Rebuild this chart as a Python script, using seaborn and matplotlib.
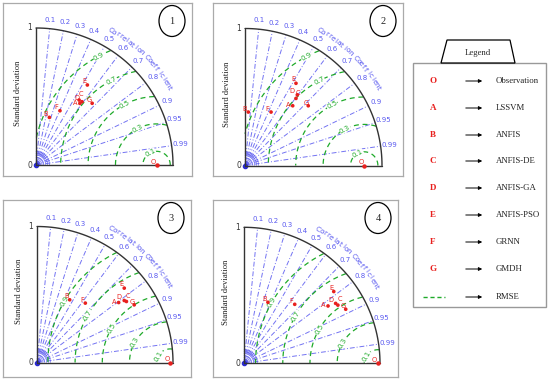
import numpy as np
import pandas as pd
import matplotlib
matplotlib.use("Agg")
import matplotlib.pyplot as plt
import seaborn as sns
from matplotlib.patches import Ellipse, Polygon, Rectangle

# ---- data ----
models = ["A", "B", "C", "D", "E", "F", "G"]
model_names = ["LSSVM", "ANFIS", "ANFIS-DE", "ANFIS-GA", "ANFIS-PSO", "GRNN", "GMDH"]

std_p1 = [0.552, 0.361, 0.569, 0.571, 0.694, 0.433, 0.609]
cor_p1 = [0.580, 0.270, 0.553, 0.588, 0.540, 0.404, 0.673]
std_p2 = [0.558, 0.391, 0.615, 0.642, 0.706, 0.434, 0.635]
cor_p2 = [0.624, 0.061, 0.605, 0.595, 0.527, 0.438, 0.727]
std_p3 = [0.745, 0.520, 0.796, 0.787, 0.843, 0.563, 0.831]
cor_p3 = [0.806, 0.462, 0.826, 0.815, 0.761, 0.631, 0.860]
std_p4 = [0.748, 0.482, 0.812, 0.805, 0.845, 0.572, 0.847]
cor_p4 = [0.826, 0.365, 0.850, 0.837, 0.781, 0.652, 0.883]
obs_std = [0.88, 0.87, 0.98, 0.985]

corr_ticks = [0.1, 0.2, 0.3, 0.4, 0.5, 0.6, 0.7, 0.8, 0.9, 0.95, 0.99]
rmse_levels = [0.1, 0.3, 0.5, 0.7, 0.9]
panel_labels = ["1", "2", "3", "4"]

W, H = 550, 379
BLUE = "#5a5af0"
GREEN = "#1faa2a"
RED = "#e8201e"

# label nudges so the letters sit next to their dot (data units)
label_dx = {"A": -0.035, "B": -0.025, "C": 0.012, "D": -0.038, "E": -0.02, "F": -0.025, "G": -0.018}
label_dy = {"A": 0.005, "B": 0.025, "C": 0.042, "D": 0.026, "E": 0.028, "F": 0.025, "G": 0.022}

sns.set_theme(style="white")
plt.rcParams["font.family"] = ["DejaVu Sans"]

fig = plt.figure(figsize=(W / 100, H / 100), dpi=100)


def taylor_panel(box, origin, R, stds, cors, sref, label, rmse_ang):
    x0, y0, x1, y1 = box
    ox, oy = origin
    ax = fig.add_axes([x0 / W, 1 - y1 / H, (x1 - x0) / W, (y1 - y0) / H])
    ax.set_xlim((x0 - ox) / R, (x1 - ox) / R)
    ax.set_ylim((oy - y1) / R, (oy - y0) / R)
    ax.set_xticks([])
    ax.set_yticks([])
    for s in ax.spines.values():
        s.set_color("#aaaaaa")
        s.set_linewidth(0.9)

    # correlation rays
    for c in corr_ticks:
        t = np.arccos(c)
        ax.plot([0, np.cos(t)], [0, np.sin(t)], color=BLUE, lw=0.7,
                ls=(0, (5, 2, 1, 2)), alpha=0.85)
        ax.text(1.065 * np.cos(t), 1.065 * np.sin(t), f"{c:g}", color=BLUE,
                fontsize=5, ha="center", va="center")

    # tiny arcs near the origin
    th = np.linspace(0, np.pi / 2, 60)
    for r in np.arange(0.015, 0.1, 0.014):
        ax.plot(r * np.cos(th), r * np.sin(th), color=BLUE, lw=0.5, alpha=0.8)
    ax.plot([0], [0], "o", color="#2a2ad0", ms=3)

    # RMSE circles around the reference
    phi = np.linspace(0, np.pi, 400)
    for rm in rmse_levels:
        xs = sref + rm * np.cos(phi)
        ys = rm * np.sin(phi)
        bad = (xs < 0) | (xs ** 2 + ys ** 2 > 1.0)
        xs = np.where(bad, np.nan, xs)
        ys = np.where(bad, np.nan, ys)
        ax.plot(xs, ys, color=GREEN, lw=0.9, ls=(0, (4, 3)))
        a = np.radians(rmse_ang)
        lx, ly = sref + rm * np.cos(a), rm * np.sin(a)
        ax.text(lx, ly, f"{rm:g}", color=GREEN, fontsize=5, ha="center",
                va="center", rotation=rmse_ang - 90,
                bbox=dict(facecolor="white", edgecolor="none", pad=0.2))

    # outer arc and axes
    ax.plot(np.cos(th), np.sin(th), color="#333333", lw=1.0)
    ax.plot([0, 0], [0, 1], color="#333333", lw=1.0)
    ax.plot([0, 1], [0, 0], color="#333333", lw=1.0)
    ax.text(-0.03, 1.0, "1", fontsize=5.5, ha="right", va="center", color="#333333")
    ax.text(-0.03, 0.0, "0", fontsize=5.5, ha="right", va="center", color="#333333")
    ax.text(-0.13, 0.52, "Standard deviation", rotation=90, fontsize=6.2,
            family="Liberation Serif", ha="center", va="center", color="#222222")

    # curved title along the arc
    title = "Correlation Coefficient"
    angs = np.linspace(61, 30, len(title))
    for ch, a in zip(title, angs):
        ar = np.radians(a)
        ax.text(1.125 * np.cos(ar), 1.125 * np.sin(ar), ch, color=BLUE,
                fontsize=5.3, ha="center", va="center", rotation=a - 90)

    # model points
    df = pd.DataFrame({"model": models, "std": stds, "cor": cors})
    df["x"] = df["std"] * df["cor"]
    df["y"] = df["std"] * np.sin(np.arccos(df["cor"]))
    sns.scatterplot(data=df, x="x", y="y", ax=ax, color=RED, s=7,
                    edgecolor="none", legend=False, zorder=5)
    for _, row in df.iterrows():
        m = row["model"]
        ax.text(row["x"] + label_dx[m], row["y"] + label_dy[m], m, color=RED,
                fontsize=4.8, ha="center", va="center", zorder=6)
    ax.plot([sref], [0], "o", color=RED, ms=2.2, zorder=5)
    ax.text(sref - 0.025, 0.025, "O", color=RED, fontsize=4.8, ha="center",
            va="center", zorder=6)
    ax.set_xlabel("")
    ax.set_ylabel("")

    # panel number badge
    cx = (x1 - 20 - ox) / R
    cy = (oy - (y0 + 18)) / R
    ax.add_patch(Ellipse((cx, cy), 26 / R, 31 / R, facecolor="white",
                         edgecolor="black", lw=0.9))
    ax.text(cx, cy, label, fontsize=7.5, family="Liberation Serif",
            ha="center", va="center")
    return ax


taylor_panel((3, 3, 192, 176), (36, 165), 137, std_p1, cor_p1, obs_std[0], panel_labels[0], 118)
taylor_panel((213, 3, 403, 176), (245, 165.5), 137, std_p2, cor_p2, obs_std[1], panel_labels[1], 118)
taylor_panel((3, 200, 191, 377), (37, 362.5), 136, std_p3, cor_p3, obs_std[2], panel_labels[2], 150)
taylor_panel((213, 200, 398, 377), (244, 363.3), 136, std_p4, cor_p4, obs_std[3], panel_labels[3], 150)

# ---- legend panel ----
lax = fig.add_axes([0, 0, 1, 1])
lax.set_xlim(0, W)
lax.set_ylim(H, 0)
lax.axis("off")
lax.patch.set_alpha(0)
lax.add_patch(Rectangle((413, 63), 133, 244, facecolor="white",
                        edgecolor="#999999", lw=1.0))
lax.add_patch(Polygon([(441, 63), (447, 40), (510, 40), (515, 63)], closed=True,
                      facecolor="white", edgecolor="black", lw=0.9))
lax.text(478, 53, "Legend", fontsize=6.3, family="Liberation Serif",
         ha="center", va="center")

leg_letters = ["O"] + models
leg_names = ["Observation"] + model_names
row_y = [81, 108, 135, 161, 188, 215, 242, 269]
for let, name, yy in zip(leg_letters, leg_names, row_y):
    lax.text(433, yy, let, color=RED, fontsize=6.5, fontweight="bold",
             family="Liberation Serif", ha="center", va="center")
    lax.annotate("", xy=(485, yy), xytext=(463, yy),
                 arrowprops=dict(arrowstyle="-|>", color="black", lw=0.7,
                                 mutation_scale=5))
    lax.text(496, yy, name, fontsize=6.3, family="Liberation Serif",
             ha="left", va="center", color="#222222")
yy = 297
lax.plot([423, 445], [yy, yy], color=GREEN, lw=1.0, ls=(0, (3, 2)))
lax.annotate("", xy=(485, yy), xytext=(463, yy),
             arrowprops=dict(arrowstyle="-|>", color="black", lw=0.7,
                             mutation_scale=5))
lax.text(496, yy, "RMSE", fontsize=6.3, family="Liberation Serif",
         ha="left", va="center", color="#222222")

fig.savefig("out.png", dpi=100)
